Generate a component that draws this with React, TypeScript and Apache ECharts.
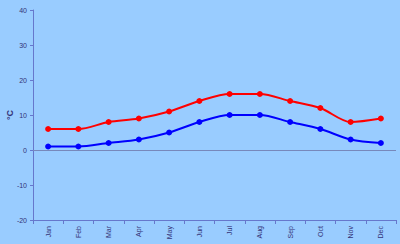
import React, { useEffect, useRef } from "react";
import * as echarts from "echarts";

const months = ["Jan", "Feb", "Mar", "Apr", "May", "Jun", "Jul", "Aug", "Sep", "Oct", "Nov", "Dec"];
const highTemps = [6, 6, 8, 9, 11, 14, 16, 16, 14, 12, 8, 9];
const lowTemps = [1, 1, 2, 3, 5, 8, 10, 10, 8, 6, 3, 2];
const yMin = -20;
const yMax = 40;
const yStep = 10;

export default function App() {
  const ref = useRef<HTMLDivElement>(null);
  useEffect(() => {
    if (!ref.current) return;
    const chart = echarts.init(ref.current, null, { renderer: "svg" });
    const axisColor = "#6677cc";
    const textColor = "#333377";
    chart.setOption({
      animation: false,
      backgroundColor: "#99ccff",
      grid: { left: 33, top: 10, right: 4, bottom: 24, containLabel: false, outerBoundsMode: "none" },
      xAxis: {
        type: "category",
        data: months,
        boundaryGap: true,
        axisLine: { onZero: false, lineStyle: { color: axisColor, width: 1 } },
        axisTick: { show: true, alignWithLabel: false, length: 4, lineStyle: { color: axisColor } },
        axisLabel: { rotate: 90, color: textColor, fontSize: 7, fontFamily: "Liberation Sans", margin: 6 },
        splitLine: { show: false },
      },
      yAxis: {
        type: "value",
        min: yMin,
        max: yMax,
        interval: yStep,
        name: "°C",
        nameLocation: "middle",
        nameGap: 19,
        nameRotate: 90,
        nameMoveOverlap: false,
        nameTextStyle: { color: textColor, fontSize: 9, fontWeight: "bold", fontFamily: "Liberation Sans" },
        axisLine: { show: true, lineStyle: { color: axisColor, width: 1 } },
        axisTick: { show: true, length: 3, lineStyle: { color: axisColor } },
        axisLabel: { color: textColor, fontSize: 7, fontFamily: "Liberation Sans", margin: 6 },
        splitLine: { show: false },
      },
      series: [
        {
          name: "High",
          type: "line",
          data: highTemps,
          smooth: 0.3,
          symbol: "circle",
          symbolSize: 6,
          lineStyle: { color: "#ff0000", width: 2 },
          itemStyle: { color: "#ff0000" },
          z: 3,
        },
        {
          name: "Low",
          type: "line",
          data: lowTemps,
          smooth: 0.3,
          symbol: "circle",
          symbolSize: 6,
          lineStyle: { color: "#0000ff", width: 2 },
          itemStyle: { color: "#0000ff" },
          z: 3,
          markLine: {
            silent: true,
            symbol: ["none", "none"],
            label: { show: false },
            lineStyle: { color: "#7788bb", width: 1, type: "solid" },
            data: [{ yAxis: 0 }],
            z: 1,
          },
        },
      ],
    });
    return () => chart.dispose();
  }, []);
  return (
    <div
      ref={ref}
      style={{ position: "fixed", left: 0, top: 0, width: 400, height: 244 }}
    />
  );
}
